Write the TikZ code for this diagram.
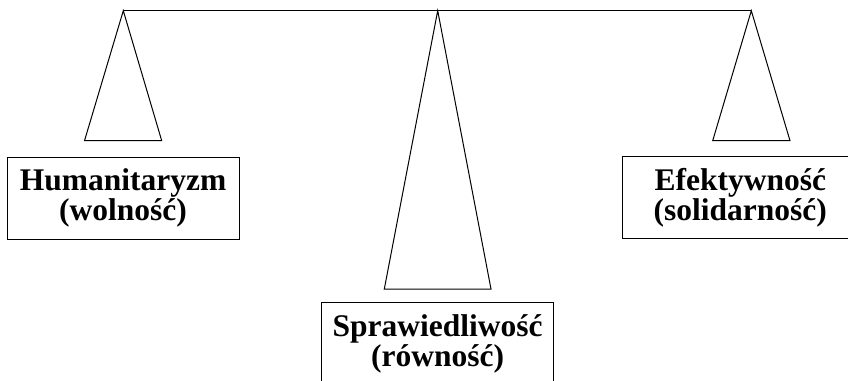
\documentclass[tikz,border=0pt]{standalone}
\usepackage{fontspec}
\setmainfont{Liberation Serif}
\begin{document}
\begin{tikzpicture}[x=1pt,y=-1pt,
  line width=1pt,
  pan/.style={draw, line join=miter},
  labelbox/.style={draw, minimum width=232pt, minimum height=82pt, inner sep=0pt,
    align=center, font=\fontsize{31.5}{24}\selectfont\bfseries},
]
\useasboundingbox (0,0) rectangle (848,380);
\clip (0,0) rectangle (848,380);
% apexes of the scale
\coordinate (aL) at (123.3,10.7);
\coordinate (aM) at (437.7,10.7);
\coordinate (aR) at (751.3,10.7);
% base corners
\coordinate (bL1) at (84.5,140.7);
\coordinate (bL2) at (161.7,140.7);
\coordinate (bM1) at (384.3,289);
\coordinate (bM2) at (491,289);
\coordinate (bR1) at (712.7,140.7);
\coordinate (bR2) at (790,140.7);
% beam
\draw (aL) -- (aR);
% pans
\draw[pan] (aL) -- (bL1) -- (bL2) -- cycle;
\draw[pan] (aM) -- (bM1) -- (bM2) -- cycle;
\draw[pan] (aR) -- (bR1) -- (bR2) -- cycle;
% labels
\node[labelbox] (hum) at (123,198) {Humanitaryzm\\(wolność)};
\node[labelbox, minimum width=236pt] (efe) at (740.3,197.5) {Efektywność\\(solidarność)};
\node[labelbox] (spr) at (437.7,343.7) {Sprawiedliwość\\(równość)};
\end{tikzpicture}
\end{document}
